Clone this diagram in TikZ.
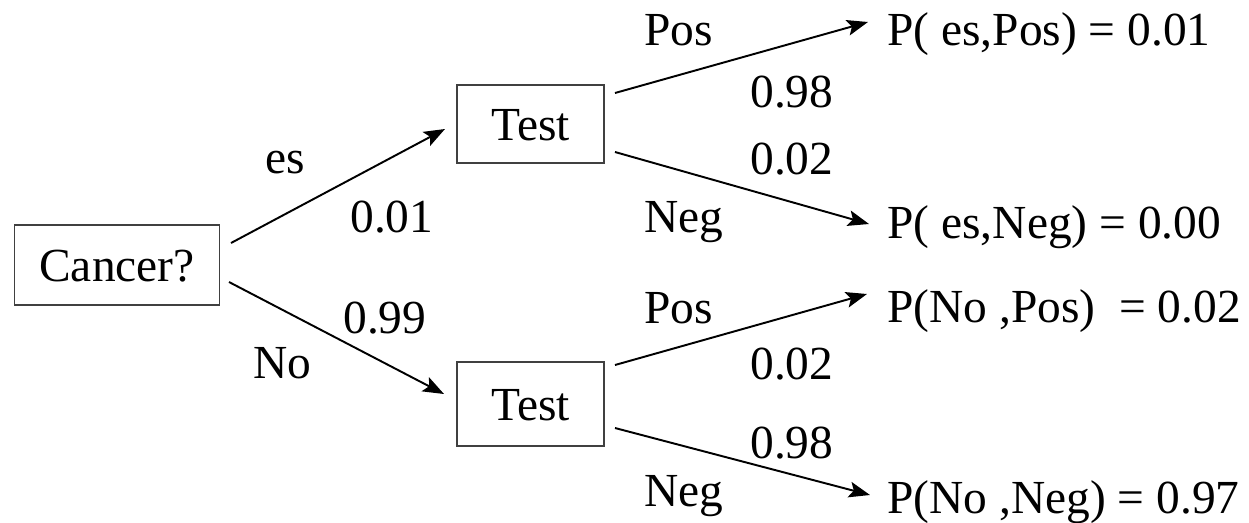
\documentclass[tikz,border=0pt]{standalone}
\usepackage{fontspec}
\setmainfont{Liberation Serif}
\usetikzlibrary{arrows.meta}
\begin{document}
\begin{tikzpicture}[x=0.02cm,y=-0.02cm,
  font=\fontsize{27}{32}\selectfont,
  box/.style={draw=black!75,line width=0.8pt,inner sep=0pt,text height=18.4pt,text depth=0pt},
  lbl/.style={anchor=base west,inner sep=0pt},
  arr/.style={line width=1.1pt,-{Stealth[length=12pt,width=9pt,inset=2.5pt]}}]
\useasboundingbox (0,0) rectangle (1249,522);
% boxes
\node[box,minimum width=4.1cm,minimum height=1.6cm] (cancer) at (117,265) {Cancer?};
\node[box,minimum width=2.94cm,minimum height=1.56cm] (test1) at (530.5,124) {Test};
\node[box,minimum width=2.94cm,minimum height=1.68cm] (test2) at (530.5,404) {Test};
% leaves
\node[lbl] (leaf1) at (887,45) {P( es,Pos) = 0.01};
\node[lbl] (leaf2) at (887,238) {P( es,Neg) = 0.00};
\node[lbl] (leaf3) at (887,322) {P(No ,Pos)\ \ = 0.02};
\node[lbl] (leaf4) at (887,513) {P(No ,Neg) = 0.97};
% connector ends
\coordinate (c1) at (231,243);
\coordinate (c2) at (229,282);
\coordinate (t1in) at (445,129);
\coordinate (t2in) at (444,394);
\coordinate (t1a) at (615,93);
\coordinate (t1b) at (615,152);
\coordinate (t2a) at (615,365);
\coordinate (t2b) at (615,428);
\coordinate (l1in) at (868,22);
\coordinate (l2in) at (869,224);
\coordinate (l3in) at (867,294);
\coordinate (l4in) at (870,495);
% connectors
\draw[arr] (c1) -- (t1in);
\draw[arr] (c2) -- (t2in);
\draw[arr] (t1a) -- (l1in);
\draw[arr] (t1b) -- (l2in);
\draw[arr] (t2a) -- (l3in);
\draw[arr] (t2b) -- (l4in);
% labels
\node[lbl] (yes) at (265,173) {es};
\node[lbl] (p1) at (350,232) {0.01};
\node[lbl] (p2) at (343,333) {0.99};
\node[lbl] (no) at (253,378) {No};
\node[lbl] (pos1) at (644,45) {Pos};
\node[lbl] (p3) at (750,107) {0.98};
\node[lbl] (p4) at (750,174) {0.02};
\node[lbl] (neg1) at (644,232) {Neg};
\node[lbl] (pos2) at (644,323) {Pos};
\node[lbl] (p5) at (750,379) {0.02};
\node[lbl] (p6) at (750,458) {0.98};
\node[lbl] (neg2) at (644,506) {Neg};
\end{tikzpicture}
\end{document}
